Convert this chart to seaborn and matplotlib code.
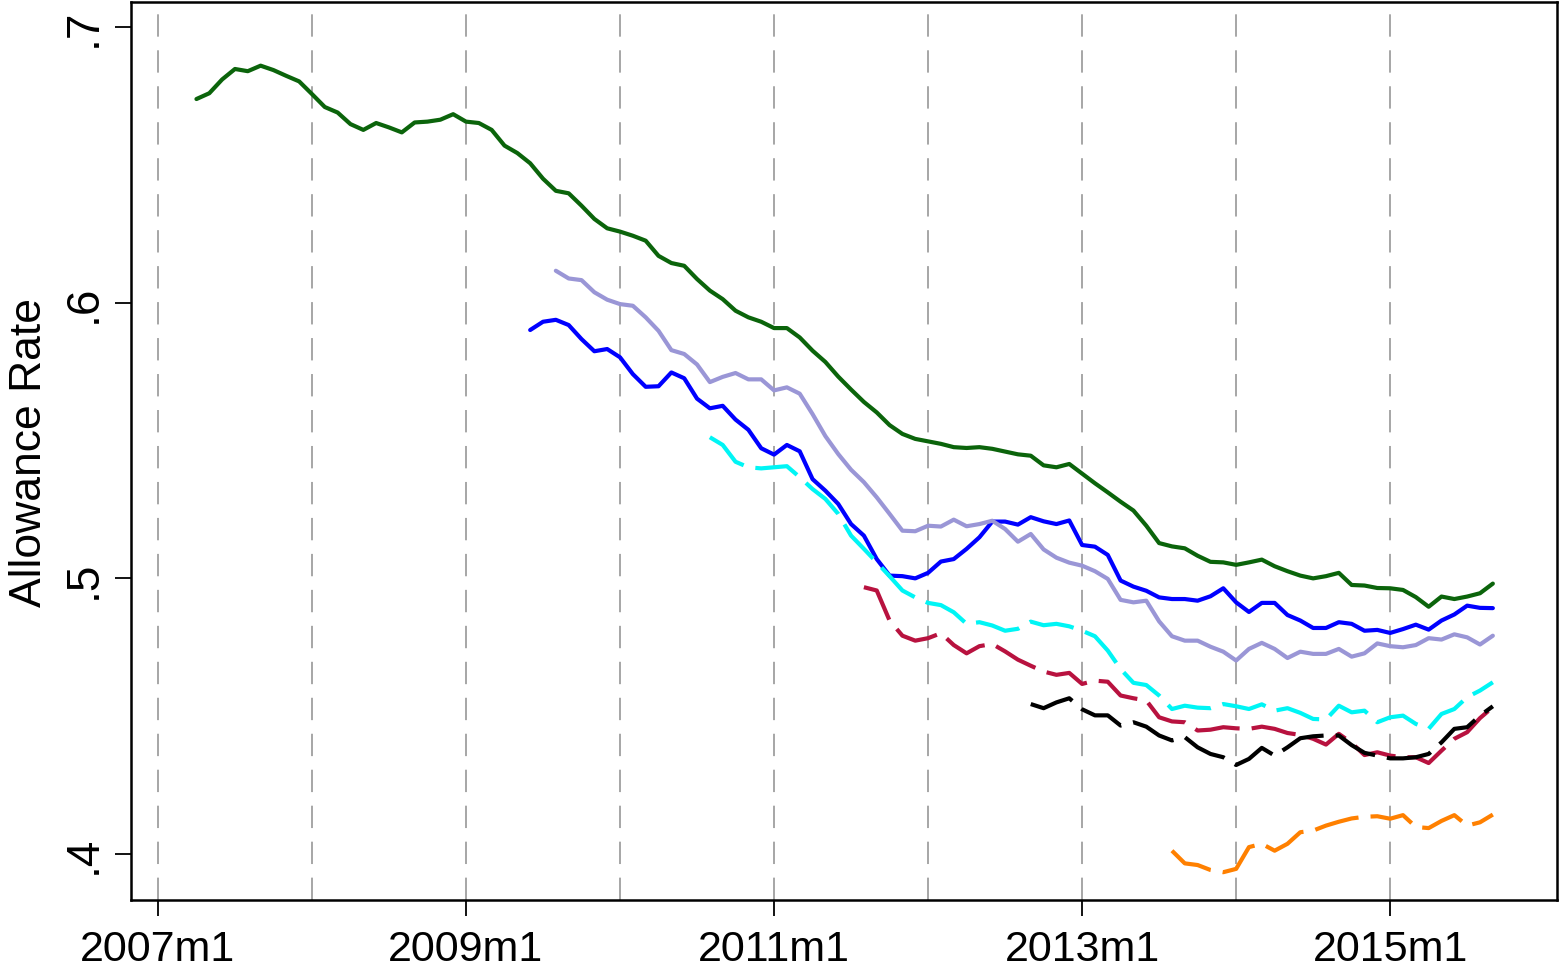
import matplotlib
matplotlib.use("Agg")
import matplotlib.pyplot as plt
import pandas as pd
import seaborn as sns

# Monthly allowance rates; month index 0 corresponds to 2007m1.
# Each cohort series begins at its own start month and runs to 2015m9.
start_2007m4 = 3
rate_2007m4 = [
    0.6739, 0.6760, 0.6810, 0.6848, 0.6840, 0.6860, 0.6844, 0.6823, 0.6803, 0.6757,
    0.6710, 0.6690, 0.6648, 0.6627, 0.6652, 0.6636, 0.6618, 0.6654, 0.6657, 0.6664,
    0.6684, 0.6657, 0.6652, 0.6627, 0.6570, 0.6543, 0.6506, 0.6450, 0.6406, 0.6397,
    0.6352, 0.6304, 0.6270, 0.6258, 0.6243, 0.6225, 0.6170, 0.6144, 0.6134, 0.6086,
    0.6044, 0.6013, 0.5971, 0.5947, 0.5931, 0.5908, 0.5908, 0.5874, 0.5826, 0.5785,
    0.5732, 0.5685, 0.5640, 0.5602, 0.5556, 0.5524, 0.5506, 0.5497, 0.5488, 0.5476,
    0.5473, 0.5476, 0.5470, 0.5460, 0.5450, 0.5445, 0.5410, 0.5403, 0.5415, 0.5380,
    0.5345, 0.5312, 0.5278, 0.5246, 0.5191, 0.5128, 0.5116, 0.5109, 0.5082, 0.5060,
    0.5058, 0.5049, 0.5058, 0.5068, 0.5044, 0.5026, 0.5010, 0.5000, 0.5008, 0.5020,
    0.4976, 0.4974, 0.4965, 0.4964, 0.4958, 0.4932, 0.4897, 0.4934, 0.4925, 0.4934,
    0.4946, 0.4981,
]

start_2009m6 = 29
rate_2009m6 = [
    0.5901, 0.5931, 0.5938, 0.5919, 0.5868, 0.5824, 0.5832, 0.5802, 0.5741, 0.5695,
    0.5697, 0.5747, 0.5726, 0.5652, 0.5617, 0.5626, 0.5576, 0.5539, 0.5472, 0.5449,
    0.5484, 0.5461, 0.5360, 0.5318, 0.5270, 0.5197, 0.5155, 0.5070, 0.5010, 0.5008,
    0.5000, 0.5020, 0.5061, 0.5070, 0.5107, 0.5149, 0.5206, 0.5206, 0.5195, 0.5222,
    0.5207, 0.5197, 0.5210, 0.5121, 0.5115, 0.5085, 0.4992, 0.4970, 0.4955, 0.4931,
    0.4925, 0.4925, 0.4919, 0.4935, 0.4964, 0.4913, 0.4878, 0.4911, 0.4911, 0.4867,
    0.4847, 0.4820, 0.4820, 0.4841, 0.4835, 0.4810, 0.4813, 0.4802, 0.4816, 0.4832,
    0.4814, 0.4847, 0.4869, 0.4901, 0.4893, 0.4892,
]

start_2009m8 = 31
rate_2009m8 = [
    0.6116, 0.6088, 0.6082, 0.6038, 0.6011, 0.5995, 0.5989, 0.5947, 0.5898, 0.5828,
    0.5814, 0.5776, 0.5712, 0.5731, 0.5745, 0.5722, 0.5722, 0.5682, 0.5693, 0.5670,
    0.5596, 0.5516, 0.5451, 0.5394, 0.5349, 0.5294, 0.5234, 0.5173, 0.5171, 0.5191,
    0.5188, 0.5213, 0.5189, 0.5197, 0.5209, 0.5179, 0.5133, 0.5161, 0.5105, 0.5075,
    0.5057, 0.5046, 0.5026, 0.4998, 0.4922, 0.4913, 0.4919, 0.4844, 0.4790, 0.4774,
    0.4774, 0.4752, 0.4734, 0.4702, 0.4744, 0.4766, 0.4744, 0.4711, 0.4734, 0.4726,
    0.4726, 0.4744, 0.4716, 0.4728, 0.4764, 0.4754, 0.4750, 0.4758, 0.4783, 0.4778,
    0.4797, 0.4786, 0.4760, 0.4792,
]

start_2010m8 = 43
rate_2010m8 = [
    0.5512, 0.5484, 0.5423, 0.5403, 0.5399, 0.5403, 0.5407, 0.5367, 0.5324, 0.5288,
    0.5234, 0.5155, 0.5107, 0.5058, 0.5008, 0.4956, 0.4931, 0.4911, 0.4903, 0.4877,
    0.4835, 0.4841, 0.4829, 0.4810, 0.4817, 0.4843, 0.4830, 0.4835, 0.4826, 0.4810,
    0.4790, 0.4738, 0.4671, 0.4621, 0.4613, 0.4575, 0.4526, 0.4538, 0.4531, 0.4529,
    0.4544, 0.4536, 0.4526, 0.4543, 0.4520, 0.4529, 0.4512, 0.4490, 0.4488, 0.4538,
    0.4514, 0.4520, 0.4478, 0.4496, 0.4502, 0.4472, 0.4454, 0.4508, 0.4526, 0.4569,
    0.4593, 0.4623,
]

start_2011m8 = 55
rate_2011m8 = [
    0.4968, 0.4956, 0.4847, 0.4792, 0.4774, 0.4783, 0.4801, 0.4758, 0.4728, 0.4754,
    0.4762, 0.4735, 0.4705, 0.4683, 0.4662, 0.4650, 0.4657, 0.4617, 0.4629, 0.4625,
    0.4575, 0.4565, 0.4557, 0.4496, 0.4481, 0.4478, 0.4448, 0.4451, 0.4460, 0.4456,
    0.4454, 0.4462, 0.4454, 0.4439, 0.4432, 0.4418, 0.4397, 0.4436, 0.4403, 0.4359,
    0.4369, 0.4357, 0.4351, 0.4351, 0.4330, 0.4375, 0.4418, 0.4442, 0.4493, 0.4533,
]

start_2012m9 = 68
rate_2012m9 = [
    0.4544, 0.4529, 0.4550, 0.4565, 0.4525, 0.4503, 0.4503, 0.4466, 0.4478, 0.4462,
    0.4430, 0.4412, 0.4424, 0.4387, 0.4363, 0.4351, 0.4323, 0.4345, 0.4385, 0.4357,
    0.4387, 0.4420, 0.4427, 0.4430, 0.4430, 0.4395, 0.4367, 0.4357, 0.4347, 0.4347,
    0.4351, 0.4363, 0.4405, 0.4454, 0.4460, 0.4502, 0.4536,
]

start_2013m8 = 79
rate_2013m8 = [
    0.4012, 0.3966, 0.3960, 0.3942, 0.3934, 0.3946, 0.4025, 0.4037, 0.4012, 0.4037,
    0.4079, 0.4085, 0.4103, 0.4117, 0.4129, 0.4135, 0.4137, 0.4128, 0.4141, 0.4098,
    0.4094, 0.4120, 0.4141, 0.4103, 0.4115, 0.4143,
]

cohorts = ["2007m4", "2009m6", "2009m8", "2010m8", "2011m8", "2012m9", "2013m8"]
cohort_starts = [start_2007m4, start_2009m6, start_2009m8, start_2010m8,
                 start_2011m8, start_2012m9, start_2013m8]
cohort_rates = [rate_2007m4, rate_2009m6, rate_2009m8, rate_2010m8,
                rate_2011m8, rate_2012m9, rate_2013m8]

tick_months = [0, 24, 48, 72, 96]
tick_labels = ["2007m1", "2009m1", "2011m1", "2013m1", "2015m1"]
year_lines = [0, 12, 24, 36, 48, 60, 72, 84, 96]
y_ticks = [0.4, 0.5, 0.6, 0.7]
y_tick_labels = [".4", ".5", ".6", ".7"]

# Long-form table for seaborn
rows = []
for name, s, vals in zip(cohorts, cohort_starts, cohort_rates):
    for i, v in enumerate(vals):
        rows.append({"month": s + i, "rate": v, "cohort": name})
df = pd.DataFrame(rows)

palette = {
    "2007m4": "#0b640b",
    "2009m6": "#0000ff",
    "2009m8": "#9a96d6",
    "2010m8": "#00f5f5",
    "2011m8": "#b8123f",
    "2012m9": "#000000",
    "2013m8": "#ff8000",
}
long_dash = (10.8, 2.9)
dash_styles = {
    "2007m4": "",
    "2009m6": "",
    "2009m8": "",
    "2010m8": long_dash,
    "2011m8": long_dash,
    "2012m9": long_dash,
    "2013m8": long_dash,
}

sns.set_theme(style="white")
plt.rcParams["font.family"] = ["Liberation Sans", "DejaVu Sans"]

fig = plt.figure(figsize=(15.65, 9.70), dpi=100)
ax = fig.add_axes([0.0837, 0.0711, 0.9112, 0.9258])

# Yearly vertical reference lines
for m in year_lines:
    ax.axvline(m, color="#a6a6a6", linewidth=1.4,
               linestyle=(0, (11.5, 7.0)), zorder=1)

sns.lineplot(data=df, x="month", y="rate", hue="cohort", style="cohort",
             hue_order=cohorts, style_order=cohorts,
             palette=palette, dashes=dash_styles, linewidth=3.0,
             estimator=None, legend=False, ax=ax, zorder=3)

ax.set_xlim(-2.1, 109.0)
ax.set_ylim(0.3833, 0.7091)

ax.set_xticks(tick_months)
ax.set_xticklabels(tick_labels)
ax.set_yticks(y_ticks)
ax.set_yticklabels(y_tick_labels, rotation=90, va="center")

ax.tick_params(axis="both", which="major", direction="out", length=11.5,
               width=1.3, color="black", labelsize=31, labelcolor="black",
               bottom=True, left=True)
ax.tick_params(axis="y", labelsize=33)
ax.tick_params(axis="x", pad=9)
ax.tick_params(axis="y", pad=7)

ax.set_xlabel("")
ax.set_ylabel("Allowance Rate", fontsize=32, color="black", labelpad=8)

for spine in ax.spines.values():
    spine.set_visible(True)
    spine.set_color("black")
    spine.set_linewidth(1.8)

ax.grid(False)
ax.set_facecolor("white")
fig.patch.set_facecolor("white")

fig.savefig("out.png", dpi=100, facecolor="white")
